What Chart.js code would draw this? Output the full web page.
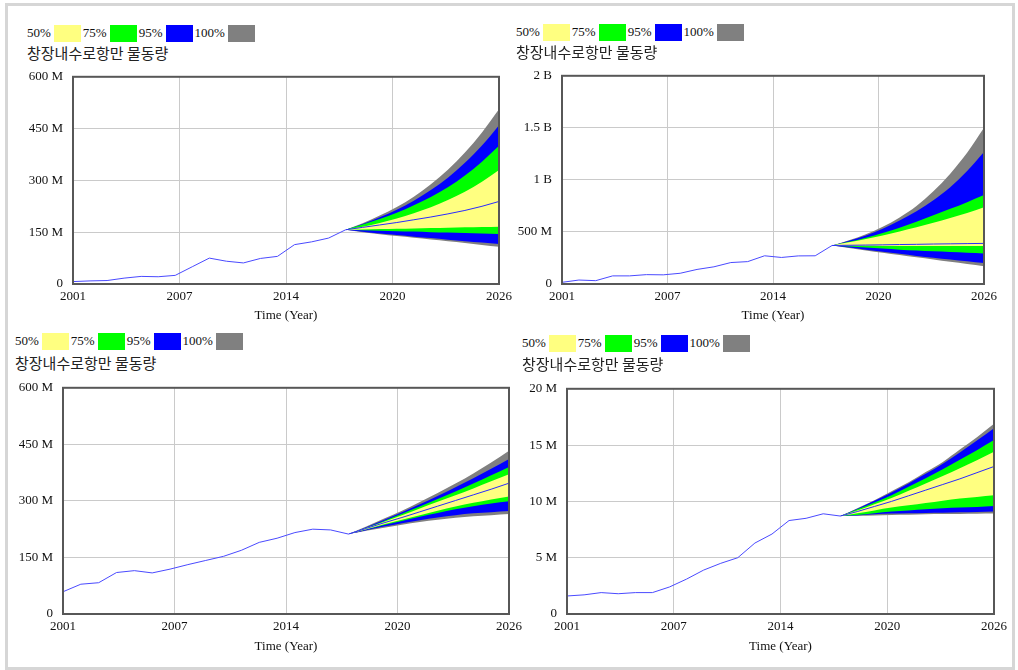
<!DOCTYPE html>
<html>
<head>
<meta charset="utf-8">
<script src="https://cdn.jsdelivr.net/npm/chart.js@4.4.1/dist/chart.umd.min.js"></script>
<style>
  body { margin: 0; background: #fff; width: 1018px; height: 670px; position: relative; overflow: hidden; }
  #frame { position: absolute; left: 5px; top: 3px; width: 1004px; height: 661px; border: 3px solid #d6d6d6; }
  .legend { position: absolute; display: flex; align-items: center; height: 18px; font: 13px "Liberation Serif"; color: #111; white-space: nowrap; }
  .legend .sw { display: inline-block; width: 27px; height: 17px; margin: 0 2px 0 3px; }
  .title { position: absolute; font: 15px "Noto Sans CJK KR"; color: #222; white-space: nowrap; line-height: 18px; }
  canvas { position: absolute; }
</style>
</head>
<body>
<div id="frame"></div>
<script>
// shared labels
var histYears = [2001, 2002, 2003, 2004, 2005, 2006, 2007, 2008, 2009, 2010, 2011, 2012, 2013, 2014, 2015, 2016, 2017];
var fcYears = [2017, 2018, 2019, 2020, 2021, 2022, 2023, 2024, 2025, 2026];
var xTickLabels = ['2001', '2007', '2014', '2020', '2026'];
var legendLabels = ['50%', '75%', '95%', '100%'];
var legendColors = ['#ffff80', '#00ff00', '#0000ff', '#808080'];
var chartTitle = '창장내수로항만 물동량';
var axisTitle = 'Time (Year)';

// panel 1 (million)
var p1YTicks = [0, 150, 300, 450, 600];
var p1YLabels = ['0', '150 M', '300 M', '450 M', '600 M'];
var p1_hist = [7, 9, 10, 17, 22, 21, 25, 50, 75, 66, 61, 74, 80, 114, 122, 133, 157];
var p1_mid = [157, 164, 171, 178, 186, 194, 203, 213, 225, 239];
var p1_hi50 = [157, 166, 177, 190, 205, 222, 243, 267, 296, 330];
var p1_lo50 = [157, 158, 159, 160, 161, 162, 163, 164, 165, 166];
var p1_hi75 = [157, 172, 188, 206, 228, 252, 280, 314, 354, 400];
var p1_lo75 = [157, 156, 154, 153, 152, 150, 149, 148, 146, 145];
var p1_hi95 = [157, 174, 193, 215, 241, 272, 308, 351, 401, 460];
var p1_lo95 = [157, 151, 146, 142, 137, 133, 128, 124, 120, 116];
var p1_hi100 = [157, 176, 198, 223, 253, 289, 331, 381, 439, 506];
var p1_lo100 = [157, 150, 144, 139, 134, 129, 124, 119, 113, 108];

// panel 2 (million)
var p2YTicks = [0, 500, 1000, 1500, 2000];
var p2YLabels = ['0', '500 M', '1 B', '1.5 B', '2 B'];
var p2_hist = [16, 38, 32, 78, 78, 90, 88, 103, 140, 165, 206, 215, 271, 255, 270, 271, 370];
var p2_mid = [370, 372, 374, 376, 379, 381, 384, 386, 388, 390];
var p2_hi50 = [370, 400, 432, 467, 505, 545, 588, 633, 682, 738];
var p2_lo50 = [370, 368, 367, 366, 366, 365, 365, 364, 364, 364];
var p2_hi75 = [370, 405, 445, 490, 540, 598, 660, 722, 786, 855];
var p2_lo75 = [370, 360, 350, 340, 330, 322, 314, 307, 300, 294];
var p2_hi95 = [370, 415, 467, 530, 610, 700, 805, 930, 1085, 1268];
var p2_lo95 = [370, 350, 330, 310, 290, 270, 252, 235, 218, 201];
var p2_hi100 = [370, 420, 478, 550, 640, 750, 890, 1060, 1260, 1500];
var p2_lo100 = [370, 345, 322, 300, 278, 256, 235, 213, 192, 171];

// panel 3 (million)
var p3YTicks = [0, 150, 300, 450, 600];
var p3YLabels = ['0', '150 M', '300 M', '450 M', '600 M'];
var p3_hist = [59, 79, 83, 110, 115, 109, 119, 131, 142, 153, 169, 190, 201, 216, 225, 223, 212];
var p3_mid = [212, 227, 242, 256, 271, 286, 301, 316, 331, 347];
var p3_hi50 = [212, 228, 245, 262, 280, 298, 315, 333, 352, 371];
var p3_lo50 = [212, 225, 238, 250, 262, 274, 285, 295, 304, 312];
var p3_hi75 = [212, 229, 247, 266, 285, 305, 325, 346, 368, 390];
var p3_lo75 = [212, 224, 236, 247, 258, 268, 278, 286, 293, 299];
var p3_hi95 = [212, 230, 250, 270, 291, 313, 336, 360, 385, 411];
var p3_lo95 = [212, 222, 232, 241, 249, 256, 262, 267, 270, 273];
var p3_hi100 = [212, 232, 253, 274, 297, 321, 346, 373, 402, 433];
var p3_lo100 = [212, 221, 229, 237, 244, 250, 255, 259, 262, 265];

// panel 4 (million)
var p4YTicks = [0, 5, 10, 15, 20];
var p4YLabels = ['0', '5 M', '10 M', '15 M', '20 M'];
var p4_hist = [1.6, 1.7, 1.9, 1.8, 1.9, 1.9, 2.4, 3.1, 3.9, 4.5, 5.0, 6.3, 7.1, 8.3, 8.5, 8.9, 8.7];
var p4_mid = [8.7, 9.1, 9.55, 10.0, 10.5, 11.0, 11.5, 12.0, 12.55, 13.1];
var p4_hi50 = [8.7, 9.2, 9.75, 10.3, 10.95, 11.6, 12.25, 12.95, 13.65, 14.4];
var p4_lo50 = [8.7, 8.95, 9.2, 9.45, 9.65, 9.85, 10.05, 10.25, 10.4, 10.55];
var p4_hi75 = [8.7, 9.3, 9.9, 10.55, 11.3, 12.05, 12.85, 13.7, 14.55, 15.45];
var p4_lo75 = [8.7, 8.8, 8.95, 9.1, 9.2, 9.3, 9.4, 9.45, 9.5, 9.6];
var p4_hi95 = [8.7, 9.35, 10.05, 10.8, 11.6, 12.45, 13.35, 14.35, 15.4, 16.5];
var p4_lo95 = [8.7, 8.75, 8.85, 8.92, 8.95, 8.98, 9.0, 9.03, 9.06, 9.1];
var p4_hi100 = [8.7, 9.4, 10.1, 10.9, 11.7, 12.6, 13.5, 14.6, 15.7, 16.9];
var p4_lo100 = [8.7, 8.72, 8.75, 8.8, 8.82, 8.85, 8.87, 8.88, 8.9, 8.92];

// layout: plot rect [left, top, right, bottom], legend / title top-left
var Y_AXIS_W = 60, PAD_T = 12, PAD_R = 24;
var panels = [
  { plot: [73, 71, 499, 284], legend: [27, 24], title: [27, 44], xAxisH: 40,
    yTicks: p1YTicks, yLabels: p1YLabels, hist: p1_hist, mid: p1_mid,
    bands: [[p1_hi50, p1_lo50], [p1_hi75, p1_lo75], [p1_hi95, p1_lo95], [p1_hi100, p1_lo100]] },
  { plot: [562, 70, 984, 284], legend: [516, 23], title: [516, 43], xAxisH: 40,
    yTicks: p2YTicks, yLabels: p2YLabels, hist: p2_hist, mid: p2_mid,
    bands: [[p2_hi50, p2_lo50], [p2_hi75, p2_lo75], [p2_hi95, p2_lo95], [p2_hi100, p2_lo100]] },
  { plot: [63, 382, 509, 614], legend: [15, 332], title: [15, 354], xAxisH: 41,
    yTicks: p3YTicks, yLabels: p3YLabels, hist: p3_hist, mid: p3_mid,
    bands: [[p3_hi50, p3_lo50], [p3_hi75, p3_lo75], [p3_hi95, p3_lo95], [p3_hi100, p3_lo100]] },
  { plot: [567, 383, 994, 614], legend: [522, 334], title: [522, 355], xAxisH: 41,
    yTicks: p4YTicks, yLabels: p4YLabels, hist: p4_hist, mid: p4_mid,
    bands: [[p4_hi50, p4_lo50], [p4_hi75, p4_lo75], [p4_hi95, p4_lo95], [p4_hi100, p4_lo100]] }
];

var tickFont = { family: 'Liberation Serif', size: 13 };

// draws the dark box round the plot area
var plotBox = {
  id: 'plotBox',
  afterDatasetsDraw: function (chart) {
    var a = chart.chartArea, c = chart.ctx;
    c.save();
    c.strokeStyle = '#575757';
    c.lineWidth = 2;
    c.strokeRect(a.left, a.top, a.right - a.left, a.bottom - a.top);
    c.restore();
  }
};

function points(xs, ys) {
  return xs.map(function (x, i) { return { x: x, y: ys[i] }; });
}

function makeLegend(p) {
  var div = document.createElement('div');
  div.className = 'legend';
  div.style.left = p.legend[0] + 'px';
  div.style.top = p.legend[1] + 'px';
  legendLabels.forEach(function (lab, i) {
    var t = document.createElement('span');
    t.textContent = lab;
    var s = document.createElement('span');
    s.className = 'sw';
    s.style.background = legendColors[i];
    div.appendChild(t);
    div.appendChild(s);
  });
  document.body.appendChild(div);

  var title = document.createElement('div');
  title.className = 'title';
  title.style.left = p.title[0] + 'px';
  title.style.top = p.title[1] + 'px';
  title.textContent = chartTitle;
  document.body.appendChild(title);
}

function makePanel(p) {
  makeLegend(p);

  var w = p.plot[2] - p.plot[0] + Y_AXIS_W + PAD_R;
  var h = p.plot[3] - p.plot[1] + PAD_T + p.xAxisH;
  var canvas = document.createElement('canvas');
  canvas.width = w; canvas.height = h;
  canvas.style.width = w + 'px'; canvas.style.height = h + 'px';
  canvas.style.left = (p.plot[0] - Y_AXIS_W) + 'px';
  canvas.style.top = (p.plot[1] - PAD_T) + 'px';
  document.body.appendChild(canvas);

  var datasets = [
    { data: points(histYears, p.hist), borderColor: '#4a4aff', borderWidth: 1, fill: false },
    { data: points(fcYears, p.mid), borderColor: '#2a2aff', borderWidth: 1, fill: false, cubicInterpolationMode: 'monotone' }
  ];
  p.bands.forEach(function (b, i) {
    datasets.push({ data: points(fcYears, b[0]), borderColor: 'rgba(0,0,0,0)', borderWidth: 0,
      backgroundColor: legendColors[i], fill: '+1', cubicInterpolationMode: 'monotone' });
    datasets.push({ data: points(fcYears, b[1]), borderColor: 'rgba(0,0,0,0)', borderWidth: 0,
      fill: false, cubicInterpolationMode: 'monotone' });
  });

  new Chart(canvas.getContext('2d'), {
    type: 'line',
    data: { datasets: datasets },
    options: {
      responsive: false,
      animation: false,
      devicePixelRatio: 1,
      layout: { padding: { top: PAD_T, right: PAD_R, left: 0, bottom: 0 } },
      elements: { point: { radius: 0 } },
      plugins: { legend: { display: false }, tooltip: { enabled: false } },
      scales: {
        x: {
          type: 'linear', min: 2001, max: 2026,
          afterBuildTicks: function (s) {
            // the axis is split in four equal parts
            s.ticks = xTickLabels.map(function (t, i) {
              return { value: 2001 + i * 25 / (xTickLabels.length - 1) };
            });
          },
          afterFit: function (s) { s.height = p.xAxisH; },
          ticks: { callback: function (v, i) { return xTickLabels[i]; }, padding: 5, font: tickFont, color: '#111', maxRotation: 0, autoSkip: false },
          grid: { color: '#cacaca', drawTicks: false },
          border: { display: false },
          title: { display: true, text: axisTitle, font: tickFont, color: '#111', padding: { top: 0, bottom: 1 } }
        },
        y: {
          min: 0, max: p.yTicks[p.yTicks.length - 1],
          afterBuildTicks: function (s) {
            s.ticks = p.yTicks.map(function (v) { return { value: v }; });
          },
          afterFit: function (s) { s.width = Y_AXIS_W; },
          ticks: { callback: function (v, i) { return p.yLabels[i]; }, padding: 10, font: tickFont, color: '#111' },
          grid: { color: '#cacaca', drawTicks: false },
          border: { display: false }
        }
      }
    },
    plugins: [plotBox]
  });
}

panels.forEach(makePanel);
</script>
</body>
</html>
